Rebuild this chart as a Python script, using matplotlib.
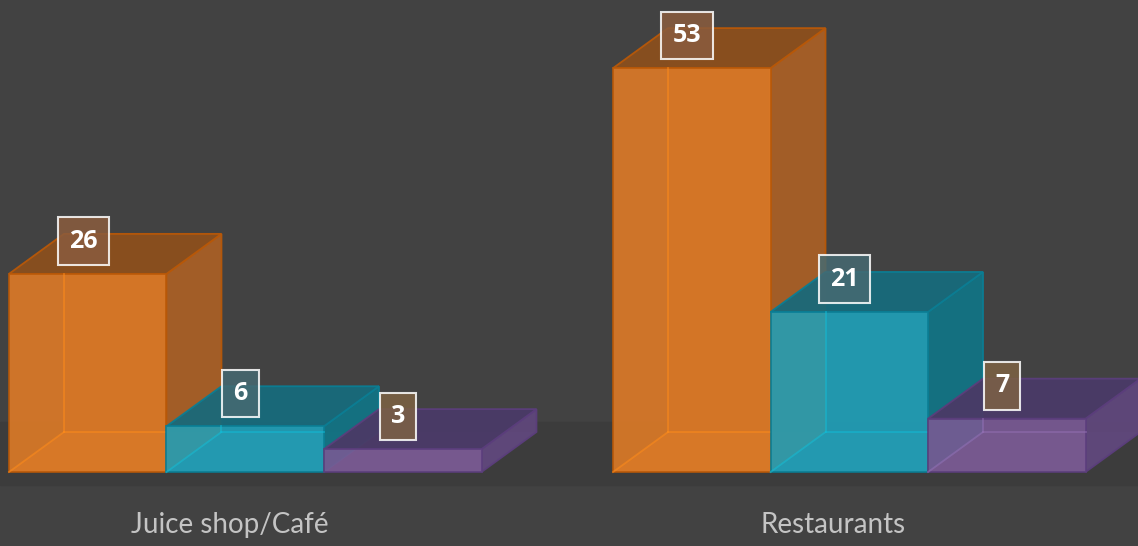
import numpy as np
import matplotlib.pyplot as plt
from matplotlib.patches import Polygon

# данные
categories = ['Juice shop/Café', 'Restaurants']
series_a = [26, 53]   # оранжевые
series_b = [6, 21]    # бирюзовые
series_c = [3, 7]     # фиолетовые

values = [series_a, series_b, series_c]

# стиль серий: лицевая, боковая, верхняя грань, ребро, скрытое ребро, подпись
styles = [
    dict(front='#e27c26', side='#a65f27', top='#8a4f1e', edge='#b85808', hidden='#ff8c1a', lab='#8a5c3e'),
    dict(front='#22a0b8', side='#137282', top='#19697a', edge='#0b7d93', hidden='#10bcd8', lab='#466a72'),
    dict(front='#7a5a94', side='#5f477a', top='#4a3a66', edge='#5b3e7c', hidden='#9470b4', lab='#7d6244'),
]

bg = '#424242'
floor = '#3c3c3c'

W = 1.0          # ширина бара
GAP = 3.835      # шаг между группами
DX, DY = 0.349, 5.25  # глубина "3D"

fig = plt.figure(figsize=(11.38, 5.46), dpi=100, facecolor=bg)
ax = fig.add_axes([0, 0, 1, 1])
ax.set_facecolor(bg)
ax.set_xlim(-0.057, 7.168)
ax.set_ylim(-9.71, 61.94)
ax.axis('off')

# пол
ax.axhspan(-1.7, 6.56, color=floor, zorder=0)


def draw_box(x0, h, st, z):
    front = [(x0, 0), (x0 + W, 0), (x0 + W, h), (x0, h)]
    back = [(x + DX, y + DY) for x, y in front]
    top = [(x0, h), (x0 + W, h), (x0 + W + DX, h + DY), (x0 + DX, h + DY)]
    side = [(x0 + W, 0), (x0 + W + DX, DY), (x0 + W + DX, h + DY), (x0 + W, h)]
    bottom = [(x0, 0), (x0 + W, 0), (x0 + W + DX, DY), (x0 + DX, DY)]

    ax.add_patch(Polygon(back, closed=True, fc=st['top'], ec='none', alpha=0.6, zorder=z))
    ax.add_patch(Polygon(bottom, closed=True, fc=st['front'], ec='none', alpha=0.5, zorder=z))
    ax.add_patch(Polygon(side, closed=True, fc=st['side'], ec=st['edge'], lw=1.3, alpha=0.95, zorder=z + 0.2))
    ax.add_patch(Polygon(top, closed=True, fc=st['top'], ec=st['edge'], lw=1.3, alpha=0.95, zorder=z + 0.2))
    ax.add_patch(Polygon(front, closed=True, fc=st['front'], ec=st['edge'], lw=1.3, alpha=0.88, zorder=z + 0.3))
    # скрытые рёбра просвечивают сквозь лицевую грань (только у высоких коробок)
    kw = dict(color=st['hidden'], lw=1.3, alpha=0.55, zorder=z + 0.4)
    if h > DY:
        ax.plot([x0, x0 + DX], [0, DY], **kw)
        ax.plot([x0 + DX, x0 + DX], [DY, h], **kw)
        ax.plot([x0 + DX, x0 + W], [DY, DY], **kw)


for g, cat in enumerate(categories):
    gx = g * GAP
    for i, vals in enumerate(values):
        x0 = gx + i * W
        draw_box(x0, vals[g], styles[i], z=2 + i)

    for i, vals in enumerate(values):
        x0 = gx + i * W
        ax.text(x0 + W / 2 - 0.03, vals[g] + 4.3, str(vals[g]),
                ha='center', va='center', color='white', fontsize=18,
                fontweight='bold', family=['Open Sans', 'DejaVu Sans'], zorder=10,
                bbox=dict(boxstyle='square,pad=0.45', fc=styles[i]['lab'],
                          ec=(1, 1, 1, 0.55), lw=1.5, alpha=0.85))

    ax.text(gx + 1.5 - 0.1, -6.9, cat, ha='center', va='center',
            color='#c4c4c4', fontsize=20, family=['Lato', 'DejaVu Sans'])

fig.savefig('out.png', dpi=100, facecolor=bg)
